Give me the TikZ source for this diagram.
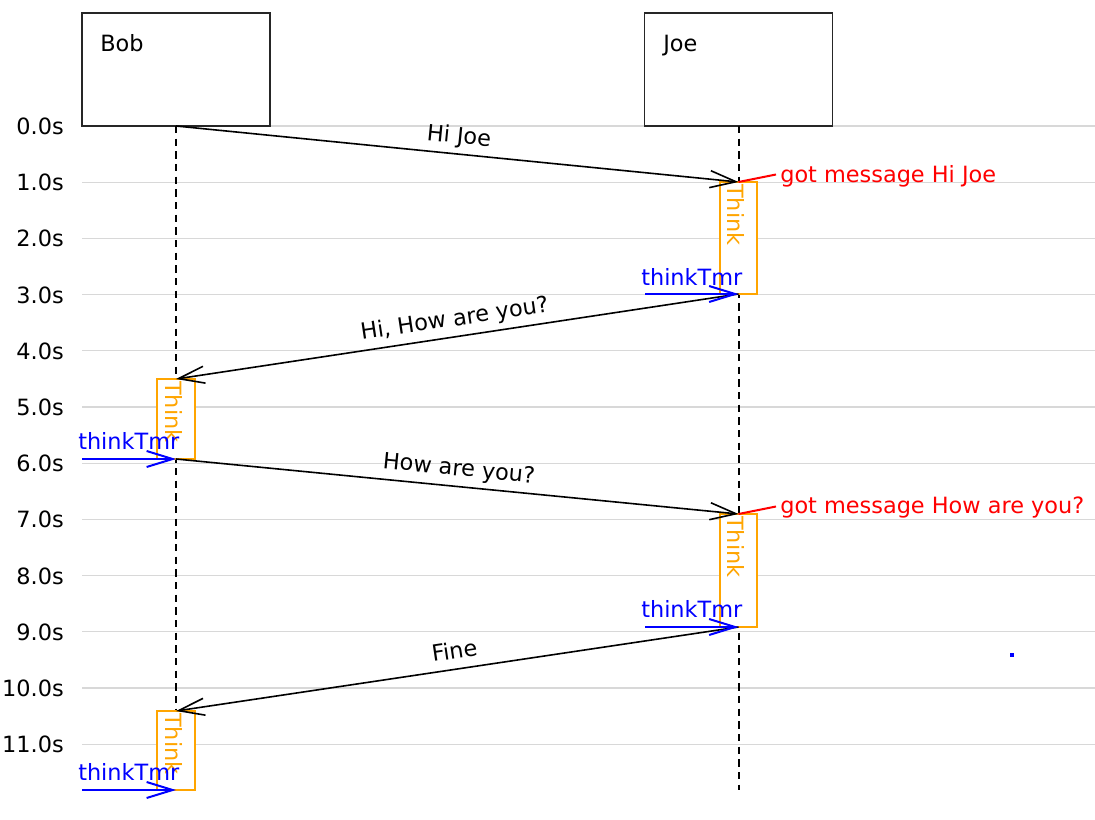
\documentclass[tikz,border=0pt]{standalone}
\usepackage{fontspec}
\setmainfont{DejaVu Sans}
\usetikzlibrary{arrows.meta}
\definecolor{gridgray}{HTML}{D8D8D8}
\definecolor{thinkorange}{HTML}{FFA500}
\begin{document}
\begin{tikzpicture}[x=0.75pt,y=-0.75pt,
  font=\fontsize{16.8}{20}\selectfont,
  gridline/.style={draw=gridgray, line width=0.8pt},
  timelabel/.style={anchor=base east, inner sep=0pt},
  actor/.style={draw=black!85, line width=1.2pt, minimum width=141pt, minimum height=84.75pt, inner sep=0pt, outer sep=0pt},
  actorname/.style={anchor=base west, inner sep=0pt},
  lifeline/.style={draw=black, line width=1.5pt, dash pattern=on 5.5pt off 4pt},
  thinkbox/.style={draw=thinkorange, fill=white, line width=1.3pt, minimum width=28pt, inner sep=0pt, outer sep=0pt, anchor=north},
  thinktext/.style={text=thinkorange, rotate=-90, anchor=base west, inner sep=0pt},
  msg/.style={draw=black, line width=1.2pt, -{Straight Barb[length=19.5pt,width=12.75pt]}},
  msglabel/.style={sloped, above=7.5pt, inner sep=0pt, text depth=0pt},
  note/.style={draw=red, line width=1.5pt},
  notetext/.style={text=red, anchor=base west, inner sep=0pt},
  tmr/.style={draw=blue, line width=1.5pt, -{Straight Barb[length=19.5pt,width=12pt]}},
  tmrtext/.style={text=blue, anchor=base west, inner sep=0pt}
]
\useasboundingbox (0,0) rectangle (1095,820);
% time grid
\foreach \i in {0,...,11} {
  \draw[gridline] (82,{126+56.2*\i}) -- (1095,{126+56.2*\i});
  \node[timelabel] (t\i) at (64,{134.5+56.2*\i}) {\i.0s};
}
% actors
\node[actor] (bob) at (176,69.5) {};
\node[actor] (joe) at (738.5,69.5) {};
\node[actorname] (bobname) at (100,52) {Bob};
\node[actorname] (joename) at (663,52) {Joe};
% lifeline ends
\coordinate (bobend) at (176,790);
\coordinate (joeend) at (738.5,790);
\draw[lifeline] (bob.south) -- (bobend);
\draw[lifeline] (joe.south) -- (joeend);
% think boxes
\node[thinkbox, minimum height=84pt] (jt1) at (738.5,182) {};
\node[thinkbox, minimum height=60pt] (bt1) at (176,379) {};
\node[thinkbox, minimum height=84.75pt] (jt2) at (738.5,514) {};
\node[thinkbox, minimum height=59.25pt] (bt2) at (176,711) {};
\node[thinktext] (jt1t) at ([xshift=6pt,yshift=-1.5pt]jt1.north west) {Think};
\node[thinktext] (bt1t) at ([xshift=6pt,yshift=-1.5pt]bt1.north west) {Think};
\node[thinktext] (jt2t) at ([xshift=6pt,yshift=-1.5pt]jt2.north west) {Think};
\node[thinktext] (bt2t) at ([xshift=6pt,yshift=-1.5pt]bt2.north west) {Think};
% messages
\draw[msg] (bob.south) -- node[msglabel] (l1) {Hi Joe} (jt1.north);
\draw[msg] (jt1.south) -- node[msglabel] (l2) {Hi, How are you?} (bt1.north);
\draw[msg] (bt1.south) -- node[msglabel] (l3) {How are you?} (jt2.north);
\draw[msg] (jt2.south) -- node[msglabel] (l4) {Fine} (bt2.north);
% notes
\coordinate (n1) at (776,174.5);
\coordinate (n2) at (776,506.5);
\draw[note] (jt1.north) -- (n1);
\draw[note] (jt2.north) -- (n2);
\node[notetext] (n1t) at (780,182) {got message Hi Joe};
\node[notetext] (n2t) at (780,513.5) {got message How are you?};
% timers
\coordinate (tm1) at (645,294);
\coordinate (tm2) at (82,459);
\coordinate (tm3) at (645,627);
\coordinate (tm4) at (82,790);
\draw[tmr] (tm1) -- (jt1.south);
\draw[tmr] (tm2) -- (bt1.south);
\draw[tmr] (tm3) -- (jt2.south);
\draw[tmr] (tm4) -- (bt2.south);
\node[tmrtext] (tm1t) at (641,285) {thinkTmr};
\node[tmrtext] (tm2t) at (78,449) {thinkTmr};
\node[tmrtext] (tm3t) at (641,617) {thinkTmr};
\node[tmrtext] (tm4t) at (78,780) {thinkTmr};
% dot
\node[fill=blue, inner sep=0pt, minimum size=2.6pt] (dot) at (1012,655) {};
\end{tikzpicture}
\end{document}
